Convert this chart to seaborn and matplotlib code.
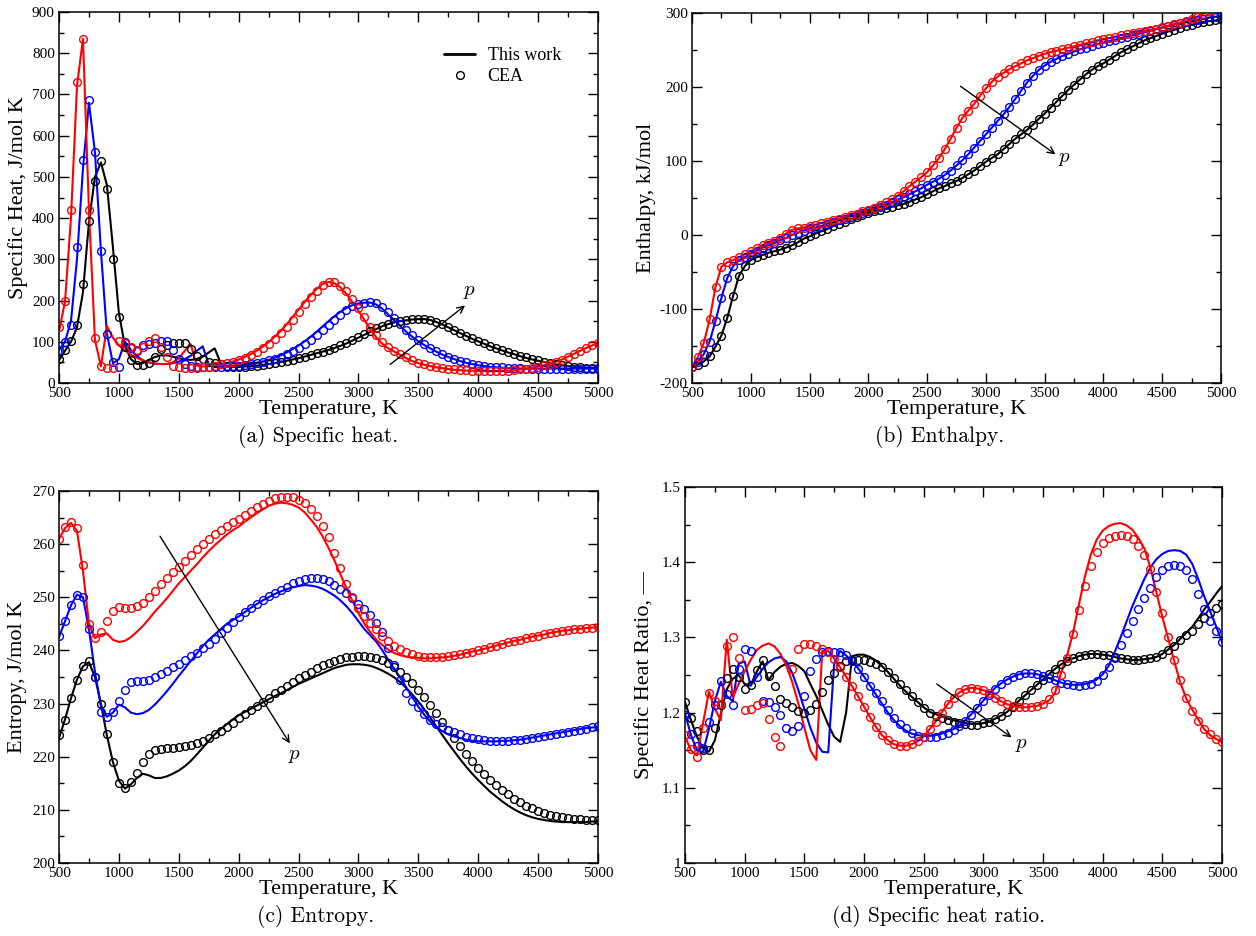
import numpy as np
import pandas as pd
import matplotlib
matplotlib.use("Agg")
import matplotlib.pyplot as plt
from matplotlib.ticker import MultipleLocator, FuncFormatter
from matplotlib.lines import Line2D
import seaborn as sns

nan = np.nan
# Temperature grid (K)
T = list(range(500, 5001, 50))

# ---------------- (a) Specific heat, J/mol K ----------------
cp_black_line = [55, 78, 100, 135, 220, 390, 500, 535, 480, 330,
                 170, 90, 58, 46, 48, 56, 63, 67, 67, 64,
                 60, 57, 56, 58, 64, 74, 84, 48, 40, 39,
                 39, 40, 41, 42, 44, 46, 48, 51, 54, 57,
                 60, 64, 68, 72, 76, 80, 85, 90, 96, 103,
                 110, 117, 124, 131, 138, 143, 147, 150, 152, 154,
                 155, 155, 153, 148, 142, 135, 128, 121, 114, 107,
                 101, 95, 89, 84, 79, 74, 70, 65, 61, 57,
                 54, 51, 48, 45, 43, 41, 39, 38, 37, 36,
                 36]
cp_black_cea = [58, 80, 102, 140, 240, 392, 490, 538, 470, 300,
                160, 88, 55, 44, 43, 48, 62, 82, 92, 97,
                98, 96, 82, 66, 58, 52, 48, 45, 42, 40,
                39, 40, 41, 42, 44, 46, 48, 51, 54, 57,
                60, 64, 68, 72, 76, 81, 86, 92, 98, 105,
                112, 119, 126, 133, 139, 144, 148, 151, 153, 155,
                156, 155, 153, 149, 143, 136, 129, 122, 115, 108,
                102, 96, 90, 84, 79, 74, 70, 66, 62, 58,
                55, 52, 49, 46, 43, 41, 39, 38, 37, 36,
                36]
cp_blue_line = [80, 100, 150, 300, 520, 680, 560, 320, 120, 48,
                58, 100, 80, 65, 55, 50, 47, 46, 46, 48,
                52, 58, 66, 78, 89, 45, 41, 40, 40, 41,
                42, 44, 46, 49, 52, 56, 61, 67, 74, 82,
                91, 101, 112, 124, 137, 150, 162, 173, 182, 189,
                193, 195, 195, 190, 180, 166, 152, 138, 124, 112,
                101, 92, 84, 76, 69, 63, 58, 53, 49, 46,
                43, 41, 39, 38, 37, 36, 36, 35, 35, 35,
                35, 35, 35, 35, 35, 35, 35, 35, 35, 35,
                35]
cp_blue_cea = [80, 100, 140, 330, 540, 686, 560, 320, 118, 50,
               40, 100, 84, 78, 92, 94, 98, 102, 103, 80,
               58, 46, 42, 40, 40, 40, 40, 40, 40, 41,
               42, 44, 46, 48, 51, 55, 59, 64, 70, 77,
               85, 94, 104, 116, 128, 141, 154, 166, 177, 186,
               192, 195, 196, 193, 185, 172, 158, 143, 129, 116,
               104, 94, 86, 78, 71, 64, 59, 54, 50, 47,
               44, 42, 40, 39, 38, 37, 36, 36, 35, 35,
               35, 35, 35, 35, 35, 35, 35, 35, 35, 35,
               35]
cp_red_line = [125, 197, 400, 720, 835, 420, 105, 40, 138, 110,
               91, 79, 69, 61, 55, 50, 47, 46, 46, 50,
               60, 78, 94, 42, 40, 41, 43, 45, 48, 52,
               57, 63, 70, 78, 88, 99, 112, 126, 142, 160,
               178, 196, 213, 228, 240, 245, 242, 232, 216, 196,
               175, 153, 130, 110, 95, 84, 76, 68, 60, 53,
               48, 44, 41, 38, 36, 34, 32, 31, 30, 30,
               29, 29, 29, 29, 30, 30, 31, 33, 35, 37,
               40, 43, 47, 52, 57, 64, 71, 78, 85, 91,
               97]
cp_red_cea = [135, 200, 420, 730, 835, 420, 110, 42, 36, 37,
              102, 96, 87, 80, 88, 102, 110, 88, 63, 42,
              38, 37, 37, 37, 38, 40, 42, 45, 48, 52,
              56, 61, 67, 75, 84, 95, 107, 121, 137, 154,
              172, 191, 208, 224, 237, 244, 244, 236, 222, 203,
              182, 160, 137, 116, 99, 87, 78, 70, 62, 55,
              49, 45, 42, 39, 37, 35, 33, 32, 31, 30,
              30, 29, 29, 29, 30, 30, 31, 33, 35, 37,
              40, 43, 47, 52, 57, 64, 71, 78, 85, 91,
              97]

# ---------------- (b) Enthalpy, kJ/mol (model and CEA coincide) ----------------
h_black = [-179, -175, -171, -164, -151, -136, -112, -82, -55, -42,
           -34, -30, -27, -24, -22, -20, -17, -14, -10, -5,
           -2, 2, 5, 8, 12, 15, 18, 21, 24, 27,
           30, 32, 34, 36, 38, 40, 42, 45, 48, 51,
           55, 59, 63, 66, 70, 73, 77, 82, 87, 93,
           99, 104, 109, 116, 123, 130, 136, 142, 149, 157,
           164, 172, 180, 188, 196, 203, 210, 217, 223, 228,
           232, 237, 242, 247, 251, 255, 259, 263, 266, 269,
           272, 275, 277, 280, 282, 284, 286, 288, 289, 290,
           292]
h_blue = [-178, -171, -161, -144, -116, -85, -58, -42, -34, -30,
          -25, -21, -17, -14, -11, -7, -4, 0, 3, 6,
          9, 10, 12, 15, 17, 20, 22, 25, 27, 30,
          32, 35, 38, 41, 44, 48, 51, 55, 59, 63,
          68, 72, 76, 81, 87, 94, 101, 109, 118, 127,
          136, 145, 154, 163, 173, 184, 195, 206, 215, 223,
          229, 234, 238, 242, 245, 248, 251, 253, 256, 258,
          260, 262, 264, 266, 268, 270, 272, 274, 276, 278,
          280, 282, 284, 286, 288, 289, 291, 292, 294, 295,
          296]
h_red = [-178, -165, -146, -114, -70, -43, -37, -34, -30, -26,
         -22, -18, -14, -11, -8, -4, 2, 7, 9, 10,
         12, 14, 16, 18, 20, 22, 24, 27, 29, 32,
         34, 37, 40, 44, 48, 53, 59, 66, 72, 78,
         85, 94, 104, 116, 130, 145, 158, 168, 177, 188,
         198, 207, 214, 219, 224, 228, 232, 236, 239, 242,
         245, 247, 249, 251, 253, 255, 257, 259, 261, 263,
         265, 266, 268, 270, 271, 273, 274, 276, 277, 279,
         281, 283, 285, 287, 289, 292, 295, 299, 303, 307,
         311]

# ---------------- (c) Entropy, J/mol K ----------------
s_black_line = [223.5, 227, 231, 234.5, 237, 237.8, 235, 230, 224, 219,
                215.5, 214, 214.8, 216, 216.8, 216.5, 216, 216, 216.3, 216.8,
                217.4, 218.2, 219.2, 220.4, 221.7, 223, 224.2, 225.2, 226.1, 227,
                227.8, 228.4, 229, 229.6, 230.2, 230.8, 231.4, 231.9, 232.5, 233.1,
                233.7, 234.2, 234.7, 235.2, 235.7, 236.2, 236.7, 237, 237.3, 237.4,
                237.4, 237.3, 237.1, 236.7, 236.2, 235.6, 234.9, 234, 232.9, 231.7,
                230.4, 228.9, 227.3, 225.7, 224.1, 222.5, 221, 219.5, 218.1, 216.8,
                215.6, 214.5, 213.4, 212.5, 211.6, 210.8, 210.1, 209.5, 209, 208.6,
                208.3, 208.1, 207.9, 207.8, 207.7, 207.7, 207.7, 207.7, 207.7, 207.8,
                207.8]
s_black_cea = [224, 227, 231, 234.5, 237, 238, 235, 230, 224.3, 219,
               215, 214.2, 215.2, 217, 219, 220.5, 221.2, 221.5, 221.6, 221.7,
               221.8, 222, 222.2, 222.5, 223, 223.5, 224.2, 224.9, 225.6, 226.4,
               227.2, 228, 228.7, 229.5, 230.3, 231.1, 231.9, 232.6, 233.3, 234,
               234.8, 235.4, 236, 236.6, 237.2, 237.7, 238.1, 238.4, 238.7, 238.8,
               238.9, 238.9, 238.8, 238.6, 238.2, 237.6, 236.9, 236, 235, 233.9,
               232.6, 231.2, 229.7, 228.2, 226.6, 225, 223.5, 222, 220.6, 219.2,
               217.9, 216.7, 215.6, 214.6, 213.7, 212.9, 212.1, 211.4, 210.8, 210.3,
               209.8, 209.4, 209.1, 208.8, 208.6, 208.4, 208.3, 208.2, 208.1, 208.1,
               208.1]
s_blue_line = [242.5, 245.5, 248.5, 250.5, 250, 244, 236, 229.5, 227.5, 228.3,
               229.8, 229.3, 228.3, 228, 228.2, 228.8, 229.8, 231, 232.3, 233.7,
               235.2, 236.6, 238, 239.4, 240.8, 242, 243, 244, 245, 245.7,
               246.4, 247.2, 248, 248.7, 249.4, 250, 250.6, 251.1, 251.5, 251.9,
               252.1, 252.3, 252.2, 252, 251.6, 251, 250.3, 249.4, 248.3, 247,
               245.5, 244, 242.8, 241.6, 240, 238.2, 236.5, 234.8, 233, 231.2,
               229.4, 227.9, 226.6, 225.6, 224.8, 224.2, 223.8, 223.5, 223.2, 223,
               222.9, 222.9, 222.9, 222.9, 223, 223, 223.1, 223.2, 223.4, 223.6,
               223.8, 224, 224.2, 224.4, 224.6, 224.8, 225, 225.2, 225.4, 225.5,
               225.6]
s_blue_cea = [242.8, 245.5, 248.5, 250.5, 250, 244, 235, 228.5, 227.5, 228.5,
              230.5, 232.5, 234, 234.3, 234.3, 234.5, 235, 235.5, 236.1, 236.8,
              237.5, 238.2, 238.9, 239.6, 240.4, 241.3, 242.2, 243.2, 244.2, 245.3,
              246.3, 247.2, 248, 248.8, 249.5, 250.2, 250.8, 251.4, 252, 252.6,
              253.1, 253.4, 253.6, 253.6, 253.4, 253, 252.3, 251.6, 250.8, 249.8,
              248.8, 247.8, 246.6, 245.2, 243.5, 240.5, 237.3, 234.5, 232, 230.5,
              229.3, 228, 227, 226.2, 225.5, 225, 224.6, 224.2, 223.8, 223.5,
              223.3, 223.1, 223, 223, 223, 223, 223.1, 223.2, 223.3, 223.5,
              223.7, 223.9, 224.1, 224.3, 224.5, 224.7, 224.9, 225.1, 225.3, 225.5,
              225.7]
s_red_line = [261, 263, 264, 262.5, 255, 245, 242.3, 243, 243.2, 242,
              241.6, 241.8, 242.5, 243.5, 244.6, 245.9, 247.3, 248.5, 249.8, 251.2,
              252.6, 253.8, 255, 256.2, 257.5, 258.7, 259.8, 260.8, 261.8, 262.6,
              263.3, 264.2, 265, 265.8, 266.5, 267.2, 267.6, 267.8, 267.7, 267.4,
              266.9, 266, 264.7, 263.3, 261.5, 259.3, 256.9, 254.3, 251.7, 249.3,
              247, 245, 243.4, 242, 241, 240.1, 239.5, 239.1, 238.8, 238.7,
              238.6, 238.5, 238.5, 238.6, 238.7, 238.8, 239, 239.2, 239.5, 239.8,
              240, 240.3, 240.6, 240.9, 241.2, 241.5, 241.8, 242, 242.3, 242.6,
              242.8, 243, 243.3, 243.5, 243.7, 243.8, 244, 244.1, 244.2, 244.3,
              244.4]
s_red_cea = [261, 263.2, 264.2, 263, 256, 245, 242.3, 243.5, 245.5, 247.5,
             248.2, 248, 248, 248.3, 249, 250, 251.2, 252.5, 253.6, 254.7,
             255.7, 256.8, 257.9, 259, 260, 261, 261.9, 262.7, 263.5, 264.2,
             264.8, 265.5, 266.2, 266.9, 267.5, 268.1, 268.6, 268.8, 268.9, 268.8,
             268.4, 267.7, 266.7, 265.3, 263.5, 261.3, 258.4, 255.6, 252.5, 250,
             248, 246.4, 245.2, 244, 242.8, 241.8, 240.9, 240.2, 239.7, 239.3,
             239, 238.8, 238.7, 238.7, 238.8, 238.9, 239.1, 239.3, 239.5, 239.7,
             240, 240.3, 240.6, 240.9, 241.2, 241.5, 241.8, 242, 242.3, 242.6,
             242.8, 243, 243.3, 243.5, 243.7, 243.8, 244, 244.1, 244.2, 244.3,
             244.4]

# ---------------- (d) Specific heat ratio ----------------
g_black_line = [1.214, 1.190, 1.168, 1.153, 1.148, 1.163, 1.198, 1.231, 1.245, 1.250,
                1.238, 1.236, 1.254, 1.268, 1.243, 1.254, 1.261, 1.265, 1.266, 1.262,
                1.255, 1.238, 1.222, 1.203, 1.184, 1.168, 1.161, 1.200, 1.275, 1.277,
                1.277, 1.274, 1.269, 1.262, 1.254, 1.245, 1.236, 1.228, 1.221, 1.214,
                1.207, 1.201, 1.198, 1.195, 1.192, 1.190, 1.188, 1.186, 1.185, 1.185,
                1.186, 1.188, 1.192, 1.196, 1.201, 1.208, 1.216, 1.223, 1.230, 1.237,
                1.244, 1.251, 1.258, 1.264, 1.269, 1.272, 1.275, 1.277, 1.278, 1.278,
                1.277, 1.276, 1.274, 1.272, 1.271, 1.270, 1.270, 1.271, 1.272, 1.274,
                1.278, 1.284, 1.290, 1.298, 1.306, 1.314, 1.325, 1.337, 1.347, 1.358,
                1.368]
g_black_cea = [1.214, 1.193, 1.175, 1.150, 1.150, 1.180, 1.210, 1.246, 1.258, 1.247,
               1.232, 1.237, 1.256, 1.270, 1.249, 1.235, 1.218, 1.213, 1.207, 1.202,
               1.199, 1.203, 1.212, 1.228, 1.243, 1.253, 1.262, 1.268, 1.270, 1.270,
               1.270, 1.267, 1.264, 1.260, 1.254, 1.246, 1.238, 1.230, 1.222, 1.214,
               1.206, 1.200, 1.196, 1.193, 1.190, 1.188, 1.186, 1.185, 1.184, 1.184,
               1.186, 1.188, 1.192, 1.196, 1.201, 1.208, 1.216, 1.223, 1.230, 1.237,
               1.244, 1.251, 1.258, 1.264, 1.269, 1.272, 1.275, 1.277, 1.278, 1.278,
               1.277, 1.276, 1.274, 1.272, 1.271, 1.270, 1.270, 1.271, 1.272, 1.274,
               1.278, 1.283, 1.289, 1.296, 1.303, 1.309, 1.318, 1.326, 1.333, 1.339,
               1.345]
g_blue_line = [1.199, 1.170, 1.150, 1.147, 1.178, 1.215, 1.241, 1.222, 1.215, 1.265,
               1.268, 1.236, 1.247, 1.258, 1.267, 1.272, 1.274, 1.268, 1.252, 1.230,
               1.205, 1.180, 1.160, 1.148, 1.147, 1.265, 1.282, 1.276, 1.268, 1.259,
               1.248, 1.236, 1.224, 1.212, 1.200, 1.190, 1.182, 1.176, 1.172, 1.170,
               1.169, 1.169, 1.170, 1.172, 1.175, 1.178, 1.183, 1.190, 1.198, 1.207,
               1.216, 1.225, 1.233, 1.239, 1.244, 1.248, 1.251, 1.252, 1.252, 1.251,
               1.249, 1.246, 1.243, 1.240, 1.238, 1.237, 1.237, 1.238, 1.240, 1.244,
               1.251, 1.262, 1.280, 1.300, 1.321, 1.342, 1.360, 1.378, 1.393, 1.404,
               1.411, 1.415, 1.416, 1.415, 1.410, 1.398, 1.378, 1.355, 1.335, 1.315,
               1.294]
g_blue_cea = [1.197, 1.172, 1.156, 1.153, 1.188, 1.210, 1.242, 1.225, 1.210, 1.258,
              1.285, 1.282, 1.248, 1.215, 1.214, 1.208, 1.197, 1.180, 1.176, 1.182,
              1.222, 1.255, 1.271, 1.280, 1.282, 1.281, 1.281, 1.276, 1.268, 1.258,
              1.247, 1.236, 1.226, 1.215, 1.204, 1.193, 1.185, 1.179, 1.173, 1.169,
              1.168, 1.167, 1.168, 1.170, 1.173, 1.177, 1.182, 1.189, 1.197, 1.206,
              1.215, 1.224, 1.232, 1.238, 1.243, 1.247, 1.250, 1.252, 1.252, 1.251,
              1.249, 1.246, 1.243, 1.240, 1.238, 1.237, 1.236, 1.237, 1.238, 1.242,
              1.250, 1.260, 1.273, 1.290, 1.306, 1.322, 1.338, 1.352, 1.366, 1.380,
              1.390, 1.395, 1.396, 1.395, 1.390, 1.378, 1.358, 1.338, 1.322, 1.308,
              1.294]
g_red_line = [1.168, 1.150, 1.143, 1.185, 1.228, 1.205, 1.190, 1.297, 1.220, 1.238,
              1.255, 1.270, 1.283, 1.289, 1.292, 1.288, 1.278, 1.262, 1.240, 1.212,
              1.180, 1.150, 1.137, 1.282, 1.282, 1.272, 1.260, 1.248, 1.235, 1.222,
              1.208, 1.194, 1.181, 1.170, 1.163, 1.158, 1.156, 1.156, 1.158, 1.162,
              1.168, 1.178, 1.188, 1.200, 1.211, 1.220, 1.227, 1.231, 1.233, 1.232,
              1.230, 1.226, 1.220, 1.215, 1.211, 1.209, 1.207, 1.207, 1.208, 1.209,
              1.212, 1.216, 1.226, 1.252, 1.275, 1.305, 1.343, 1.380, 1.410, 1.430,
              1.442, 1.448, 1.451, 1.452, 1.449, 1.443, 1.432, 1.418, 1.393, 1.360,
              1.327, 1.298, 1.268, 1.240, 1.219, 1.204, 1.191, 1.178, 1.170, 1.165,
              1.161]
g_red_cea = [1.170, 1.152, 1.141, 1.180, 1.226, 1.215, 1.212, 1.288, 1.300, 1.272,
             1.203, 1.205, 1.210, 1.213, 1.192, 1.168, 1.155, nan, 1.258, 1.285,
             1.291, 1.291, 1.289, 1.285, 1.280, 1.271, 1.260, 1.248, 1.235, 1.222,
             1.208, 1.194, 1.181, 1.170, 1.163, 1.158, 1.156, 1.156, 1.158, 1.162,
             1.168, 1.178, 1.188, 1.200, 1.211, 1.220, 1.227, 1.231, 1.233, 1.232,
             1.230, 1.226, 1.220, 1.215, 1.211, 1.209, 1.207, 1.207, 1.208, 1.209,
             1.212, 1.218, 1.230, 1.250, 1.272, 1.305, 1.337, 1.368, 1.395, 1.414,
             1.426, 1.432, 1.435, 1.436, 1.435, 1.431, 1.422, 1.409, 1.391, 1.361,
             1.332, 1.301, 1.270, 1.243, 1.220, 1.202, 1.189, 1.178, 1.171, 1.165,
             1.161]

# ---------------- style ----------------
sns.set_theme(style="ticks", rc={
    "axes.edgecolor": "black", "text.color": "black", "axes.labelcolor": "black",
    "xtick.color": "black", "ytick.color": "black", "axes.linewidth": 1.1,
})
plt.rcParams["font.family"] = ["Liberation Serif", "DejaVu Serif"]
plt.rcParams["mathtext.fontset"] = "cm"
plt.rcParams["axes.unicode_minus"] = False

W, H = 1256, 936
fig = plt.figure(figsize=(W / 100, H / 100), dpi=100)


def add_ax(l, r, t, b):
    return fig.add_axes([l / W, 1 - b / H, (r - l) / W, (b - t) / H])


axa = add_ax(59, 598, 12, 383)
axb = add_ax(692, 1221, 13, 383)
axc = add_ax(59, 598, 491, 863)
axd = add_ax(685, 1222, 487, 863)

COLORS = {"black": "#000000", "blue": "#0000ff", "red": "#ff0000"}
MS = 5.6


def draw(ax, lines, ceas):
    for key in ["black", "blue", "red"]:
        dl = pd.DataFrame({"T": T, "v": lines[key]})
        sns.lineplot(data=dl, x="T", y="v", ax=ax, color=COLORS[key], linewidth=1.5,
                     estimator=None, sort=False, legend=False, zorder=2)
        dc = pd.DataFrame({"T": T, "v": ceas[key]}).dropna()
        sns.lineplot(data=dc, x="T", y="v", ax=ax, color=COLORS[key], linestyle="none",
                     marker="o", markersize=MS, markerfacecolor="none",
                     markeredgecolor=COLORS[key], markeredgewidth=1.0,
                     estimator=None, sort=False, legend=False, zorder=3)


draw(axa, {"black": cp_black_line, "blue": cp_blue_line, "red": cp_red_line},
     {"black": cp_black_cea, "blue": cp_blue_cea, "red": cp_red_cea})
draw(axb, {"black": h_black, "blue": h_blue, "red": h_red},
     {"black": h_black, "blue": h_blue, "red": h_red})
draw(axc, {"black": s_black_line, "blue": s_blue_line, "red": s_red_line},
     {"black": s_black_cea, "blue": s_blue_cea, "red": s_red_cea})
draw(axd, {"black": g_black_line, "blue": g_blue_line, "red": g_red_line},
     {"black": g_black_cea, "blue": g_blue_cea, "red": g_red_cea})

fmt = FuncFormatter(lambda v, p: f"{v:g}")
settings = [
    (axa, (0, 900), 100, 50, "Specific Heat, J/mol K", -0.0575),
    (axb, (-200, 300), 100, 50, "Enthalpy, kJ/mol", -0.068),
    (axc, (200, 270), 10, 5, "Entropy, J/mol K", -0.059),
    (axd, (1.0, 1.5), 0.1, 0.05, "Specific Heat Ratio, \u2014", -0.0577),
]
for ax, ylim, ymaj, ymin, ylab, ylx in settings:
    ax.set_xlim(500, 5000)
    ax.set_ylim(*ylim)
    ax.xaxis.set_major_locator(MultipleLocator(500))
    ax.xaxis.set_minor_locator(MultipleLocator(250))
    ax.yaxis.set_major_locator(MultipleLocator(ymaj))
    ax.yaxis.set_minor_locator(MultipleLocator(ymin))
    ax.xaxis.set_major_formatter(fmt)
    ax.yaxis.set_major_formatter(fmt)
    ax.tick_params(which="both", direction="in", top=True, right=True,
                   width=1.0, labelsize=11, pad=3)
    ax.tick_params(which="major", length=7)
    ax.tick_params(which="minor", length=3.5)
    for s in ax.spines.values():
        s.set_linewidth(1.1)
    ax.set_xlabel("Temperature, K", fontsize=16)
    ax.set_ylabel(ylab, fontsize=16)
    ax.xaxis.set_label_coords(0.5, -0.045)
    ax.yaxis.set_label_coords(ylx, 0.5)

# legend in (a)
handles = [Line2D([0], [0], color="black", lw=2),
           Line2D([0], [0], color="black", lw=0, marker="o", markersize=MS,
                  markerfacecolor="none", markeredgewidth=1.0)]
axa.legend(handles, ["This work", "CEA"], loc="upper left", bbox_to_anchor=(0.715, 0.905),
           frameon=False, fontsize=13, handlelength=1.7, handletextpad=0.7,
           labelspacing=0.2, borderaxespad=0, borderpad=0)

# pressure arrows
arrows = [
    (axa, (3265, 45), (3890, 188), (3925, 222)),
    (axb, (2784, 201), (3592, 109), (3665, 104)),
    (axc, (1343, 261.5), (2427, 222.5), (2470, 220.2)),
    (axd, (2610, 1.238), (3237, 1.167), (3322, 1.158)),
]
for ax, start, end, ptxt in arrows:
    ax.annotate("", xy=end, xytext=start,
                arrowprops=dict(arrowstyle="->", color="black", lw=1.0, mutation_scale=12,
                                shrinkA=0, shrinkB=0), zorder=5)
    ax.text(ptxt[0], ptxt[1], "$p$", fontsize=15, ha="center", va="center", zorder=5)

# sub-captions
caps = [("(a) Specific heat.", 318, 436), ("(b) Enthalpy.", 940, 436),
        ("(c) Entropy.", 316, 916), ("(d) Specific heat ratio.", 938, 916)]
for txt, x, y in caps:
    fig.text(x / W, 1 - y / H, txt, fontsize=15.5, fontfamily="cmr10",
             ha="center", va="center")

fig.savefig("out.png", dpi=100)
